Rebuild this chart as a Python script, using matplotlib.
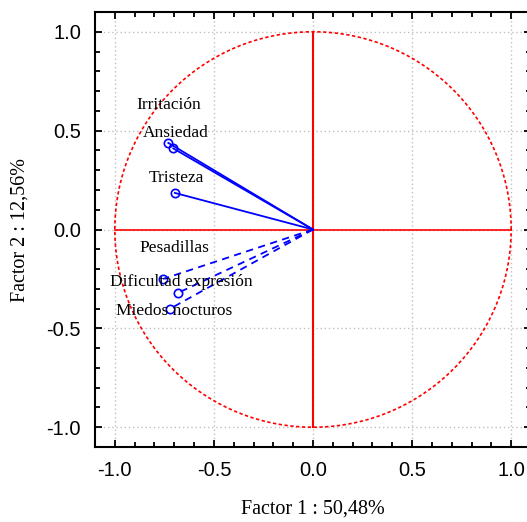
import numpy as np
import matplotlib.pyplot as plt
from matplotlib.ticker import MultipleLocator

# Variables y coordenadas en el plano factorial (Factor 1, Factor 2)
solid_names = ['Irritación', 'Ansiedad', 'Tristeza']
solid_x = [-0.705, -0.73, -0.697]
solid_y = [0.41, 0.438, 0.185]

dashed_names = ['Pesadillas', 'Dificultad expresión', 'Miedos nocturos']
dashed_x = [-0.756, -0.68, -0.72]
dashed_y = [-0.25, -0.32, -0.40]

# posiciones de las etiquetas
label_names = ['Irritación', 'Ansiedad', 'Tristeza',
               'Pesadillas', 'Dificultad expresión', 'Miedos nocturos']
label_x = [-0.73, -0.69, -0.69, -0.70, -0.667, -0.70]
label_y = [0.63, 0.49, 0.26, -0.096, -0.263, -0.41]

fig = plt.figure(figsize=(5.27, 5.22), dpi=100)
ax = fig.add_axes([95 / 527, 75 / 522, 436 / 527, 435 / 522])

ax.set_xlim(-1.1, 1.1)
ax.set_ylim(-1.1, 1.1)

# grilla punteada
for v in [-1.0, -0.5, 0.0, 0.5, 1.0]:
    ax.axvline(v, color='#c0c0c0', lw=1, ls=(0, (1, 2)), zorder=0)
    ax.axhline(v, color='#c0c0c0', lw=1, ls=(0, (1, 2)), zorder=0)

# circulo unidad y ejes rojos
t = np.linspace(0, 2 * np.pi, 400)
ax.plot(np.cos(t), np.sin(t), color='red', lw=1.2, ls=(0, (2, 1.5)), zorder=1)
ax.plot([-1, 1], [0, 0], color='red', lw=1.2, zorder=1)
ax.plot([0, 0], [-1, 1], color='red', lw=1.5, zorder=1)

for x, y in zip(solid_x, solid_y):
    ax.plot([0, x], [0, y], color='blue', lw=1.3, zorder=3)
ax.plot(solid_x, solid_y, 'o', mfc='none', mec='blue', ms=6, mew=1.2, zorder=3)

for x, y in zip(dashed_x, dashed_y):
    ax.plot([0, x], [0, y], color='blue', lw=1.3, ls=(0, (4, 3)), zorder=3)
ax.plot(dashed_x, dashed_y, 'o', mfc='none', mec='blue', ms=6, mew=1.2, zorder=3)

for name, x, y in zip(label_names, label_x, label_y):
    ax.text(x, y, name, ha='center', va='center', fontsize=12.5,
            family='Liberation Serif', zorder=4)

ax.xaxis.set_major_locator(MultipleLocator(0.5))
ax.yaxis.set_major_locator(MultipleLocator(0.5))
ax.xaxis.set_minor_locator(MultipleLocator(0.1))
ax.yaxis.set_minor_locator(MultipleLocator(0.1))
ax.tick_params(which='both', direction='in', top=True, right=True, width=1.3)
ax.tick_params(which='major', length=5, labelsize=14.5, pad=10)
ax.tick_params(which='minor', length=3.5)
ax.set_xticks([-1.0, -0.5, 0.0, 0.5, 1.0])
ax.set_xticklabels(['-1.0', '-0.5', '0.0', '0.5', '1.0'], family='Liberation Sans')
ax.set_yticks([-1.0, -0.5, 0.0, 0.5, 1.0])
ax.set_yticklabels(['-1.0', '-0.5', '0.0', '0.5', '1.0'], family='Liberation Sans')

for s in ax.spines.values():
    s.set_linewidth(1.5)

ax.set_xlabel('Factor 1 : 50,48%', family='Liberation Serif', fontsize=14.5, labelpad=14)
ax.set_ylabel('Factor 2 : 12,56%', family='Liberation Serif', fontsize=14.5, labelpad=12)

fig.savefig('out.png', dpi=100)
